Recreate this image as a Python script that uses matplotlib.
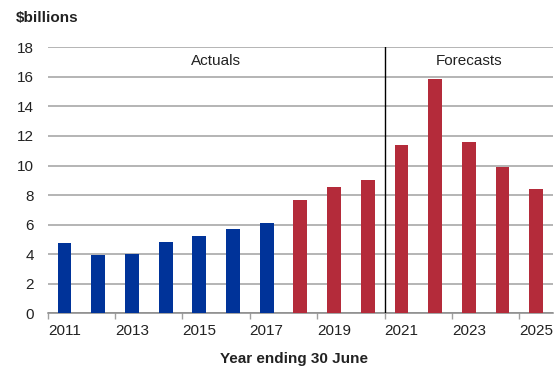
import matplotlib
matplotlib.use("Agg")
import matplotlib.pyplot as plt
import numpy as np

plt.rcParams['font.family'] = ['Liberation Sans', 'DejaVu Sans']

years = [2011, 2012, 2013, 2014, 2015, 2016, 2017, 2018, 2019, 2020,
         2021, 2022, 2023, 2024, 2025]
values = [4.76, 3.94, 4.01, 4.82, 5.23, 5.70, 6.11, 7.67, 8.52, 9.04,
          11.37, 15.85, 11.59, 9.88, 8.43]
blue_until = 2017
forecast_from = 2021

blue = '#003399'
red = '#B42B3A'
grid_col = '#a0a0a0'
text_col = '#222222'

fig = plt.figure(figsize=(5.55, 3.67), dpi=100)
ax = fig.add_axes([0.086, 0.1463, 0.9104, 0.7247])

x = np.arange(len(years))
colors = [blue if y <= blue_until else red for y in years]
ax.bar(x, values, width=0.41, color=colors, zorder=3)

ax.set_xlim(-0.5, len(years) - 0.5)
ax.set_ylim(0, 18)
ax.set_yticks(np.arange(0, 19, 2))
ax.yaxis.grid(True, color=grid_col, linewidth=1.1, zorder=0)
ax.tick_params(axis='y', length=0, pad=10, labelsize=11, labelcolor=text_col)

ax.set_xticks(x[::2])
ax.set_xticklabels([str(y) for y in years[::2]])
ax.set_xticks(np.arange(-0.5, len(years) - 1, 2), minor=True)
ax.tick_params(axis='x', which='major', length=0, pad=8, labelsize=11, labelcolor=text_col)
ax.tick_params(axis='x', which='minor', length=4, width=1, color=grid_col)

for s in ['top', 'right', 'left']:
    ax.spines[s].set_visible(False)
ax.spines['bottom'].set_color('#888888')
ax.spines['bottom'].set_linewidth(1.1)

split = years.index(forecast_from) - 0.5
ax.axvline(split, color='black', linewidth=1, zorder=4)

ax.text((-0.5 + split) / 2, 17.1, 'Actuals', ha='center', va='center',
        fontsize=11, color=text_col)
ax.text((split + len(years) - 0.5) / 2, 17.1, 'Forecasts', ha='center',
        va='center', fontsize=11, color=text_col)

fig.text(16 / 555, 1 - 18 / 367, '$billions', ha='left', va='center',
         fontsize=11, fontweight='bold', color=text_col)
fig.text(294 / 555, 1 - 359 / 367, 'Year ending 30 June', ha='center',
         va='center', fontsize=11, fontweight='bold', color=text_col)

fig.savefig('out.png', dpi=100)
